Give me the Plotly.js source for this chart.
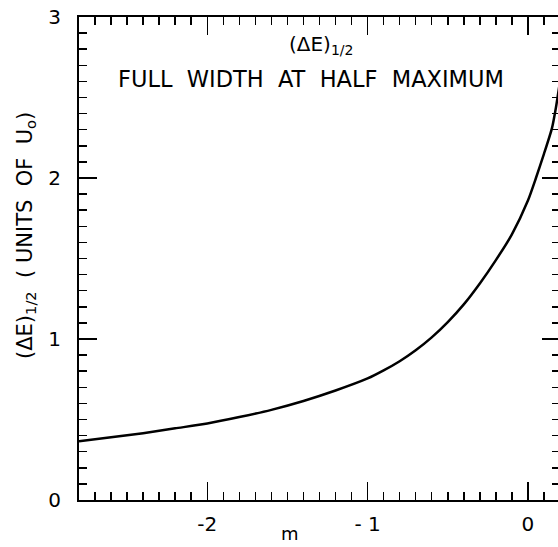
<!DOCTYPE html>
<html>
<head>
<meta charset="utf-8">
<script src="https://cdn.plot.ly/plotly-3.0.1.min.js"></script>
<style>html,body{margin:0;padding:0;overflow:hidden;background:#fff}</style>
</head>
<body>
<div id="chart" style="width:560px;height:547px"></div>
<script>
// Curve: (ΔE)_1/2 vs m
const mValues = [-2.8, -2.6, -2.4, -2.2, -2.0, -1.8, -1.6, -1.4, -1.2, -1.0, -0.9, -0.8, -0.7, -0.6, -0.5, -0.4, -0.3, -0.2, -0.1, 0.0, 0.05, 0.1, 0.15, 0.175, 0.2];
const widthValues = [0.365, 0.39, 0.415, 0.445, 0.475, 0.515, 0.56, 0.615, 0.68, 0.755, 0.805, 0.862, 0.93, 1.01, 1.105, 1.215, 1.345, 1.49, 1.65, 1.86, 2.0, 2.15, 2.31, 2.44, 2.6];

const xTickVals = [-2, -1, 0];
const xTickText = ['-2', '- 1', '0'];
const yTickVals = [0, 1, 2, 3];
const yTickText = ['0', '1', '2', '3'];

const FONT = 'DejaVu Sans, Liberation Sans, sans-serif';

const trace = {
  x: mValues, y: widthValues, type: 'scatter', mode: 'lines',
  line: {color: '#000', width: 2.5, shape: 'spline', smoothing: 0.6},
  hoverinfo: 'skip', showlegend: false
};

const axisCommon = {
  showgrid: false, zeroline: false, showline: true, linecolor: '#000', linewidth: 2,
  ticks: 'inside', ticklen: 18, tickwidth: 1.5, tickcolor: '#000', mirror: 'ticks',
  tickfont: {family: FONT, size: 20, color: '#000'},
  minor: {dtick: 0.1, ticks: 'inside', ticklen: 8, tickwidth: 1.5, tickcolor: '#000', showgrid: false}
};

const layout = {
  width: 560, height: 547,
  margin: {l: 79, r: 0, t: 17, b: 47},
  paper_bgcolor: '#fff', plot_bgcolor: '#fff',
  font: {family: FONT, color: '#000'},
  xaxis: Object.assign({}, axisCommon, {
    range: [-2.8, 0.2], tickvals: xTickVals, ticktext: xTickText,
    ticklabelstandoff: 5, minor: Object.assign({}, axisCommon.minor, {tick0: 0})
  }),
  yaxis: Object.assign({}, axisCommon, {
    range: [0, 3], tickvals: yTickVals, ticktext: yTickText,
    ticklabelstandoff: 12, minor: Object.assign({}, axisCommon.minor, {tick0: 0})
  }),
  annotations: [
    {text: '(ΔE)<sub>1/2</sub>', xref: 'paper', yref: 'paper', x: (321-79)/481, y: (500-45)/483,
     showarrow: false, xanchor: 'center', yanchor: 'middle', font: {family: FONT, size: 20, color: '#000'}},
    {text: 'FULL  WIDTH  AT  HALF  MAXIMUM', xref: 'paper', yref: 'paper', x: (311-79)/481, y: (500-79)/483,
     showarrow: false, xanchor: 'center', yanchor: 'middle', font: {family: FONT, size: 22.5, color: '#000'}},
    {text: 'm', xref: 'paper', yref: 'paper', x: (290-79)/481, y: -46/483,
     showarrow: false, xanchor: 'center', yanchor: 'bottom', font: {family: FONT, size: 18, color: '#000'}},
    {text: '(ΔE)<sub>1/2</sub>  ( UNITS  OF  U<sub>o</sub>)', xref: 'paper', yref: 'paper', x: (26-79)/481, y: (500-236)/483,
     showarrow: false, xanchor: 'center', yanchor: 'middle', textangle: -90, font: {family: FONT, size: 21, color: '#000'}}
  ]
};

Plotly.newPlot('chart', [trace], layout, {staticPlot: true, displayModeBar: false});
</script>
</body>
</html>
